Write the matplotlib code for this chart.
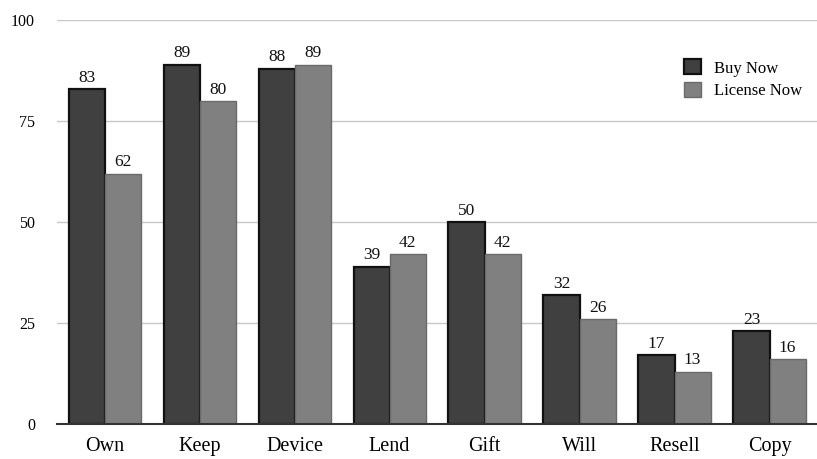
import matplotlib
matplotlib.use("Agg")
import matplotlib.pyplot as plt
import numpy as np

categories = ["Own", "Keep", "Device", "Lend", "Gift", "Will", "Resell", "Copy"]
buy_now = [83, 89, 88, 39, 50, 32, 17, 23]
license_now = [62, 80, 89, 42, 42, 26, 13, 16]
yticks = [0, 25, 50, 75, 100]

plt.rcParams['font.family'] = ['Liberation Serif', 'DejaVu Serif']

fig = plt.figure(figsize=(8.17, 4.59), dpi=100)
ax = fig.add_axes([0.07, 0.076, 0.93, 0.88])

x = np.arange(len(categories))
w = 0.38
b1 = ax.bar(x - w/2, buy_now, w, color="#404040", edgecolor="#111111", linewidth=1.6, label="Buy Now", zorder=3)
b2 = ax.bar(x + w/2, license_now, w, color="#808080", edgecolor="#6a6a6a", linewidth=1.0, label="License Now", zorder=3)

for rect, v in zip(b1, buy_now):
    ax.text(rect.get_x() + rect.get_width()/2, v + 0.8, str(v), ha="center", va="bottom", fontsize=12.5, color="#111111")
for rect, v in zip(b2, license_now):
    ax.text(rect.get_x() + rect.get_width()/2, v + 0.8, str(v), ha="center", va="bottom", fontsize=12.5, color="#111111")

ax.set_xlim(-0.5, len(categories) - 0.5)
ax.set_ylim(0, 100)
ax.set_yticks(yticks)
ax.set_yticklabels([str(t) for t in yticks], fontsize=11.5)
ax.set_xticks(x)
ax.set_xticklabels(categories, fontsize=14.5)
ax.tick_params(axis="both", length=0)
ax.tick_params(axis="y", pad=16)
ax.tick_params(axis="x", pad=9)
ax.grid(axis="y", color="#c8c8c8", linewidth=1, zorder=0)
for s in ["top", "right", "left"]:
    ax.spines[s].set_visible(False)
ax.spines["bottom"].set_color("#333333")
ax.spines["bottom"].set_linewidth(1.5)
ax.spines["bottom"].set_zorder(4)

ax.legend(loc="upper right", bbox_to_anchor=(1.0, 0.94), frameon=False, fontsize=12,
          handlelength=1.0, handleheight=1.0, handletextpad=0.8, labelspacing=0.3)

fig.savefig("out.png", dpi=100)
